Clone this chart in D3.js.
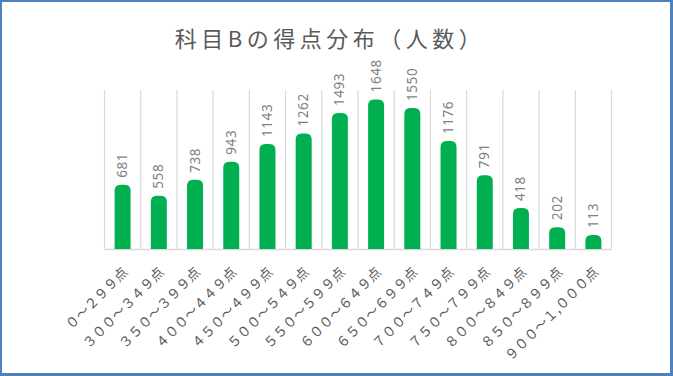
<!DOCTYPE html>
<html><head><meta charset="utf-8">
<script src="https://cdn.jsdelivr.net/npm/d3@7"></script>
<style>body{margin:0;background:#fff}svg{display:block}</style>
</head><body>
<script>
const title = "科目Bの得点分布（人数）";
const categories = ["０～２９９点","３００～３４９点","３５０～３９９点","４００～４４９点","４５０～４９９点","５００～５４９点","５５０～５９９点","６００～６４９点","６５０～６９９点","７００～７４９点","７５０～７９９点","８００～８４９点","８５０～８９９点","９００～１,０００点"];
const values = [681,558,738,943,1143,1262,1493,1648,1550,1176,791,418,202,113];
const yDomain = [0,1800];

const W=673,H=376;
const svg=d3.select("body").append("svg").attr("width",W).attr("height",H);
svg.append("rect").attr("width",W).attr("height",H).attr("fill","#4F81BD");
svg.append("rect").attr("x",2).attr("y",2).attr("width",668).attr("height",371).attr("fill","#fff");

const x=d3.scaleBand().domain(categories).range([104.5,611.5]).paddingInner(0).paddingOuter(0);
const y=d3.scaleLinear().domain(yDomain).range([249,90]);

// vertical gridlines at category boundaries
const bounds=categories.map(c=>x(c)).concat([x.range()[1]]);
svg.append("g").selectAll("line").data(bounds).join("line")
  .attr("x1",d=>d).attr("x2",d=>d).attr("y1",y(yDomain[1])).attr("y2",y(0))
  .attr("stroke","#D9D9D9").attr("stroke-width",1.2);
svg.append("line").attr("x1",x.range()[0]).attr("x2",x.range()[1]).attr("y1",y(0)+0.5).attr("y2",y(0)+0.5)
  .attr("stroke","#D9D9D9").attr("stroke-width",1.5);

const bw=16, r=6, ext=4;
function barPath(c,v){
  const cx=x(c)+x.bandwidth()/2, x0=cx-bw/2, x1=cx+bw/2, yt=y(v)-ext, yb=y(0);
  return `M${x0},${yb}V${yt+r}Q${x0},${yt} ${x0+r},${yt}H${x1-r}Q${x1},${yt} ${x1},${yt+r}V${yb}Z`;
}
svg.append("g").selectAll("path").data(categories).join("path")
  .attr("d",(c,i)=>barPath(c,values[i])).attr("fill","#00B050");

// data labels
svg.append("g").selectAll("text").data(categories).join("text")
  .attr("transform",(c,i)=>`translate(${x(c)+x.bandwidth()/2+4.5},${y(values[i])-ext-7}) rotate(-90)`)
  .attr("font-family","'Noto Sans', 'DejaVu Sans', sans-serif").attr("font-size",13.5)
  .attr("letter-spacing",0.6)
  .attr("fill","#7F7F7F").text((c,i)=>values[i]);

// x labels
svg.append("g").selectAll("text").data(categories).join("text")
  .attr("transform",c=>`translate(${x(c)+x.bandwidth()/2+6},${y(0)+24}) rotate(-45)`)
  .attr("text-anchor","end")
  .attr("font-family","'Noto Sans CJK JP', sans-serif").attr("font-size",13.5)
  .attr("fill","#595959").text(c=>c);

// title
svg.append("text").attr("x",330).attr("y",47).attr("text-anchor","middle")
  .attr("font-family","'Noto Sans CJK JP', sans-serif").attr("font-size",22)
  .attr("letter-spacing",4.5).attr("fill","#595959").text(title);
</script>
</body></html>
